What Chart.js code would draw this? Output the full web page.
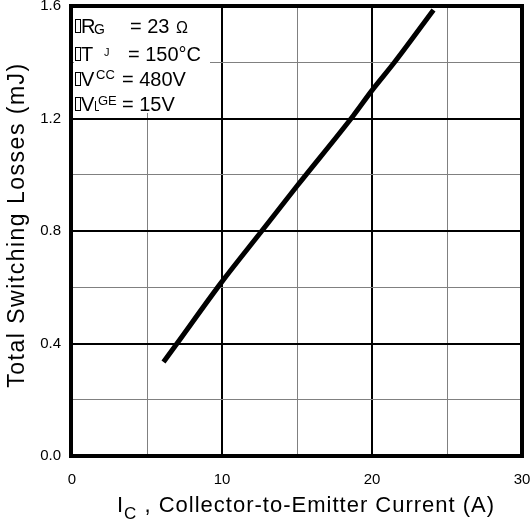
<!DOCTYPE html>
<html>
<head>
<meta charset="utf-8">
<script src="https://cdn.jsdelivr.net/npm/chart.js@4"></script>
<style>
html,body{margin:0;padding:0;background:#fff;}
#c{display:block;}
</style>
</head>
<body>
<canvas id="c" width="532" height="522" style="width:532px;height:522px"></canvas>
<script>
// Data
const currentA = [6.1, 7.0, 10.0, 12.65, 15.0, 18.75, 20.0, 21.5, 24.1];
const lossesMJ = [0.334, 0.40, 0.62, 0.80, 0.96, 1.21, 1.30, 1.40, 1.586];
const xTickLabels = [0, 10, 20, 30];
const yTickLabels = [0.0, 0.4, 0.8, 1.2, 1.6];
const conditionLabels = [
  ['R', 'G', '= 23', 'Ω'],
  ['T', 'J', '= 150°C', ''],
  ['V', 'CC', '= 480V', ''],
  ['V', 'GE', '= 15V', '']
];

const FONT = '"Liberation Sans", Arial, Helvetica, sans-serif';

const points = currentA.map((x, i) => ({x: x, y: lossesMJ[i]}));

const isMajorX = v => Math.abs(v % 10) < 1e-6;
const isMajorY = v => Math.round(v * 10) % 4 === 0;

const decor = {
  id: 'decor',
  beforeDatasetsDraw(chart) {
    const ctx = chart.ctx;
    ctx.save();
    ctx.fillStyle = '#fff';
    ctx.fillRect(74, 8, 136, 105);
    ctx.fillStyle = '#000';
    ctx.strokeStyle = '#000';
    ctx.textBaseline = 'alphabetic';
    ctx.textAlign = 'left';
    const base = [33, 61, 86, 111];
    const eqX = [130, 128, 122, 122];
    const sub = [
      {x: 94, dy: 1, size: 14},
      {x: 104, dy: -5, size: 11},
      {x: 96, dy: -7, size: 13},
      {x: 98, dy: -6, size: 13}
    ];
    conditionLabels.forEach((row, i) => {
      const b = base[i];
      ctx.lineWidth = 1;
      ctx.strokeRect(75.5, b - 13.5, 5, 13);
      ctx.font = '20px ' + FONT;
      ctx.fillText(row[0], 81, b);
      ctx.font = sub[i].size + 'px ' + FONT;
      ctx.fillText(row[1], sub[i].x, b + sub[i].dy);
      ctx.font = '20px ' + FONT;
      ctx.fillText(row[2], eqX[i], b);
      if (row[3]) {
        ctx.font = '16px ' + FONT;
        ctx.fillText(row[3], 176, b);
      }
    });
    // small bracket artifact on the last line
    ctx.lineWidth = 1;
    ctx.beginPath();
    ctx.moveTo(95.5, 101);
    ctx.lineTo(95.5, 110.5);
    ctx.lineTo(99, 110.5);
    ctx.stroke();
    ctx.restore();
  },
  afterDraw(chart) {
    const ctx = chart.ctx;
    const a = chart.chartArea;
    ctx.save();
    ctx.strokeStyle = '#000';
    ctx.lineWidth = 4;
    ctx.strokeRect(a.left - 1, a.top, a.right - a.left + 1, a.bottom - a.top);
    ctx.fillStyle = '#000';
    ctx.textBaseline = 'alphabetic';
    // y title
    ctx.save();
    ctx.font = '23px ' + FONT;
    ctx.letterSpacing = '1.5px';
    ctx.translate(24, 225);
    ctx.rotate(-Math.PI / 2);
    ctx.textAlign = 'center';
    ctx.fillText('Total Switching Losses (mJ)', 0, 0);
    ctx.restore();
    // x title with subscript
    ctx.textAlign = 'left';
    ctx.letterSpacing = '1px';
    let x = 117;
    ctx.font = '22px ' + FONT;
    ctx.fillText('I', x, 512);
    x += ctx.measureText('I').width;
    ctx.font = '17px ' + FONT;
    ctx.fillText('C', x, 519);
    x += ctx.measureText('C').width;
    ctx.font = '22px ' + FONT;
    ctx.fillText(' , Collector-to-Emitter Current (A)', x, 512);
    ctx.restore();
  }
};

new Chart(document.getElementById('c'), {
  type: 'line',
  data: {
    datasets: [{
      data: points,
      borderColor: '#000',
      borderWidth: 5,
      pointRadius: 0,
      fill: false,
      cubicInterpolationMode: 'monotone',
      borderCapStyle: 'butt'
    }]
  },
  options: {
    responsive: false,
    animation: false,
    devicePixelRatio: 1,
    layout: {padding: {top: 6, right: 10, left: 0, bottom: 0}},
    plugins: {legend: {display: false}, tooltip: {enabled: false}},
    scales: {
      x: {
        type: 'linear',
        min: 0, max: 30,
        afterFit: s => { s.height = 66; s.paddingLeft = 0; s.paddingRight = 0; },
        border: {display: false},
        grid: {
          drawTicks: false,
          color: c => isMajorX(c.tick.value) ? '#000' : '#808080',
          lineWidth: c => isMajorX(c.tick.value) ? 2 : 1
        },
        ticks: {
          stepSize: 5,
          padding: 15,
          color: '#000',
          font: {family: FONT, size: 15},
          maxRotation: 0,
          autoSkip: false,
          callback: v => xTickLabels.includes(v) ? String(v) : ''
        }
      },
      y: {
        type: 'linear',
        min: 0, max: 1.6,
        afterFit: s => { s.width = 72; s.paddingTop = 0; s.paddingBottom = 0; },
        border: {display: false},
        grid: {
          drawTicks: false,
          color: c => isMajorY(c.tick.value) ? '#000' : '#808080',
          lineWidth: c => isMajorY(c.tick.value) ? 2 : 1
        },
        ticks: {
          stepSize: 0.2,
          padding: 11,
          color: '#000',
          font: {family: FONT, size: 15},
          autoSkip: false,
          callback: v => yTickLabels.some(t => Math.abs(t - v) < 1e-6) ? v.toFixed(1) : ''
        }
      }
    }
  },
  plugins: [decor]
});
</script>
</body>
</html>
